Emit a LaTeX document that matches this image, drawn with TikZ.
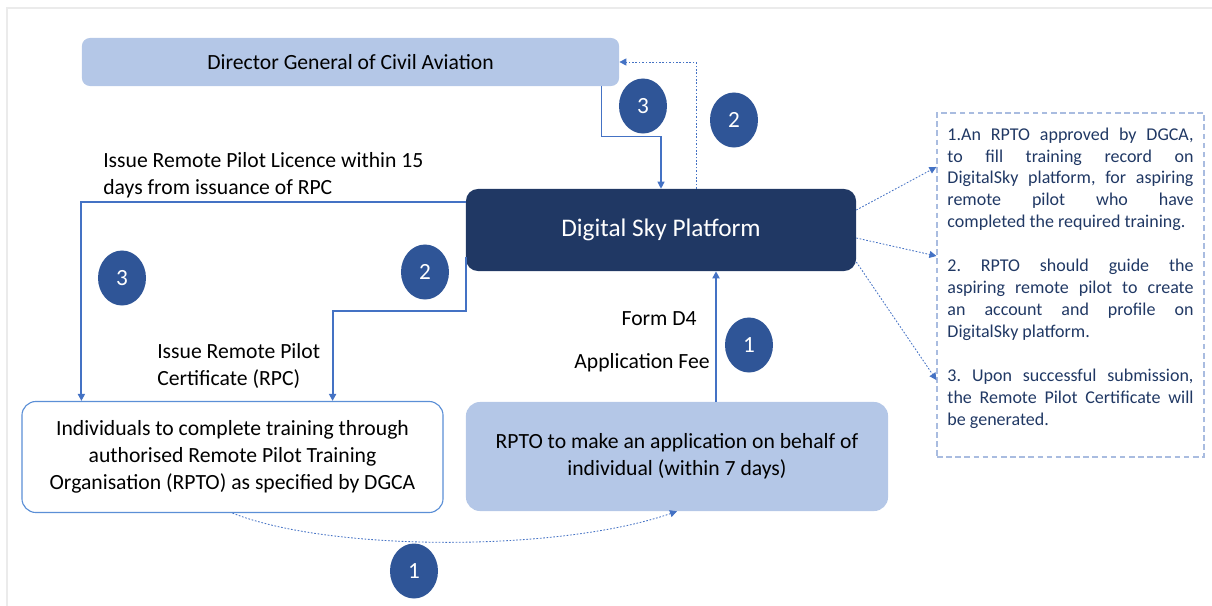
\documentclass[tikz,border=0pt]{standalone}
\usepackage{fontspec}
\setmainfont{Carlito}
\usepackage{xcolor}
\definecolor{dgca-blue}{HTML}{B4C7E7}
\definecolor{sky-navy}{HTML}{203864}
\definecolor{step-blue}{HTML}{2F5597}
\definecolor{link-blue}{HTML}{4472C4}
\definecolor{indiv-border}{HTML}{5B8FD6}
\definecolor{note-border}{HTML}{A9BCE0}
\definecolor{frame-gray}{HTML}{EBEBEB}
\usetikzlibrary{arrows.meta, shapes.geometric}
\frenchspacing

\begin{document}
\begin{tikzpicture}[x=0.025cm, y=-0.025cm,
      >={Triangle[length=5pt, width=5pt]},
      every node/.style={font=\fontsize{15.4}{19}\selectfont},
      plainbox/.style={rounded corners=0.35cm, align=center, inner sep=0pt},
      badge/.style={ellipse, fill=step-blue, text=white, inner sep=0pt,
          minimum width=1.2cm, minimum height=1.375cm,
          font=\fontsize{16.5}{16.5}\selectfont},
      link/.style={draw=link-blue, line width=0.8pt},
      boldlink/.style={draw=link-blue, line width=1.5pt},
      dotlink/.style={draw=link-blue, line width=0.6pt,
          dash pattern=on 1.2pt off 1.2pt}]
    \useasboundingbox (0,0) rectangle (1212,606);
    \draw[frame-gray, line width=1.5pt] (7,606) -- (7,8) -- (1212,8);

    \node[plainbox, fill=dgca-blue, rounded corners=0.2cm,
          minimum width=13.425cm, minimum height=1.2cm]
          (dgca) at (350.5,62) {Director General of Civil Aviation};
    \node[plainbox, fill=sky-navy, text=white, rounded corners=0.3cm,
          minimum width=9.75cm, minimum height=2.05cm,
          font=\fontsize{18}{18}\selectfont]
          (dsp) at (661,230) {Digital Sky Platform};
    \node[plainbox, draw=indiv-border, fill=white, line width=0.8pt,
          minimum width=10.525cm, minimum height=2.775cm]
          (indiv) at (232.5,457) {Individuals to complete training through\\
            authorised Remote Pilot Training\\
            Organisation (RPTO) as specified by DGCA};
    \node[plainbox, fill=dgca-blue,
          minimum width=10.55cm, minimum height=2.725cm]
          (rpto) at (677,456.5) {RPTO to make an application on behalf of\\
            individual (within 7 days)};
    \node[draw=note-border, line width=0.8pt, dash pattern=on 4pt off 2.5pt,
          minimum width=6.675cm, minimum height=8.6cm, inner xsep=0.26cm,
          text width=6.15cm, align=justify, text=sky-navy,
          font=\fontsize{12.8}{15.6}\selectfont]
          (note) at (1070.5,285) {\hyphenpenalty=10000\exhyphenpenalty=10000
            1.An RPTO approved by DGCA,\linebreak
            to fill training record on\linebreak
            DigitalSky platform, for aspiring\linebreak
            remote pilot who have\linebreak
            completed the required training.\par\vspace{15.6pt}
            2. RPTO should guide the\linebreak
            aspiring remote pilot to create\linebreak
            an account and profile on\linebreak
            DigitalSky platform.\par\vspace{15.6pt}
            3. Upon successful submission,\linebreak
            the Remote Pilot Certificate will\linebreak
            be generated.\par\vspace{10pt}};

    % step numbers
    \node[badge] (b3top) at (643,106) {3};
    \node[badge] (b2top) at (734,120) {2};
    \node[badge] (b3left) at (122,278) {3};
    \node[badge] (b2left) at (425,272) {2};
    \node[badge] (b1mid) at (749,345) {1};
    \node[badge] (b1low) at (414,571) {1};

    % labels
    \node[anchor=west, align=left, inner sep=0pt] (licence) at (103,175)
          {Issue Remote Pilot Licence within 15\\ days from issuance of RPC};
    \node[anchor=west, align=left, inner sep=0pt] (rpc) at (157,366)
          {Issue Remote Pilot\\ Certificate (RPC)};
    \node[anchor=east, inner sep=0pt] (form) at (697,319) {Form D4};
    \node[anchor=east, inner sep=0pt] (fee) at (710,363) {Application Fee};

    % connectors
    \draw[link, ->] ([xshift=-0.45cm]dgca.south east) -- ++(0,50) -| (dsp.north);
    \draw[dotlink, ->] ([xshift=0.875cm]dsp.north) |- (dgca.east);
    \draw[boldlink, ->] ([yshift=0.7cm]dsp.west)
          -| ([xshift=1.5cm]indiv.north west);
    \draw[boldlink, ->] ([yshift=-0.675cm]dsp.west) -- ++(0,54)
          -| ([xshift=-2.775cm]indiv.north east);
    \draw[boldlink, ->] ([xshift=0.975cm]rpto.north)
          -- ([xshift=0.975cm]rpto.north |- dsp.south);
    \draw[dotlink, ->] (indiv.south) .. controls (330,552) and (560,552)
          .. (rpto.south);
    \draw[dotlink, ->] ([yshift=0.5cm]dsp.east) -- ([yshift=2.95cm]note.west);
    \draw[dotlink, ->] ([yshift=-0.2cm]dsp.east) -- ([yshift=0.725cm]note.west);
    \draw[dotlink, ->] ([yshift=-0.8cm]dsp.east) -- ([yshift=-2.375cm]note.west);
\end{tikzpicture}
\end{document}
